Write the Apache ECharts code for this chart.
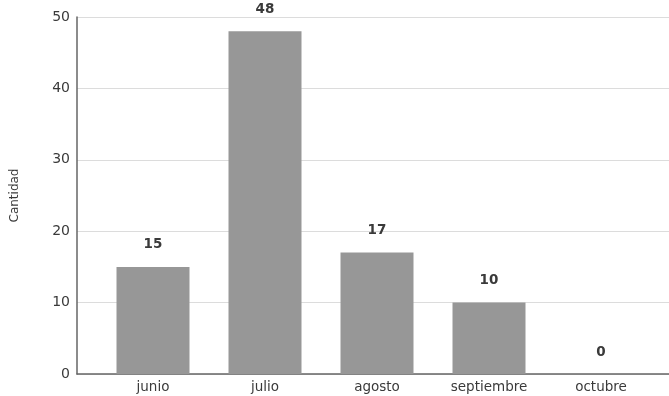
<!DOCTYPE html>
<html><head><meta charset="utf-8">
<script src="https://cdn.jsdelivr.net/npm/echarts@6/dist/echarts.min.js"></script>
<style>html,body{margin:0;padding:0;background:#fff}#c{width:669px;height:396px}</style>
</head><body><div id="c"></div>
<script>
const categories = ['junio', 'julio', 'agosto', 'septiembre', 'octubre'];
const values = [15, 48, 17, 10, 0];
const yTicks = [0, 10, 20, 30, 40, 50];
const yTitle = 'Cantidad';

const font = '"DejaVu Sans", Verdana, sans-serif';
const chart = echarts.init(document.getElementById('c'));
chart.setOption({
  animation: false,
  grid: [
    {left: 77, right: 0, top: 17, bottom: 22},
    {left: 97, right: 12, top: 17, bottom: 22}
  ],
  xAxis: [
    {gridIndex: 0, type: 'value', min: 0, max: 1, axisLine: {show: true, onZero: false, lineStyle: {color: '#666', width: 1.5}},
     axisTick: {show: false}, axisLabel: {show: false}, splitLine: {show: false}},
    {gridIndex: 1, type: 'category', data: categories,
     axisLine: {show: false}, axisTick: {show: false},
     axisLabel: {color: '#3a3a3a', fontSize: 13.5, fontFamily: font, margin: 6}}
  ],
  yAxis: [
    {gridIndex: 0, type: 'value', min: yTicks[0], max: yTicks[yTicks.length-1], interval: 10,
     name: yTitle, nameLocation: 'middle', nameGap: 56, nameRotate: 90,
     nameTextStyle: {color: '#3a3a3a', fontSize: 12, fontFamily: font},
     axisLine: {show: true, lineStyle: {color: '#666', width: 1.5}}, axisTick: {show: false},
     axisLabel: {color: '#3a3a3a', fontSize: 14, fontFamily: font, margin: 7},
     splitLine: {show: true, lineStyle: {color: '#dcdcdc', width: 1}}},
    {gridIndex: 1, type: 'value', min: 0, max: 50, show: false}
  ],
  series: [{
    type: 'bar', xAxisIndex: 1, yAxisIndex: 1, data: values, barWidth: 73,
    itemStyle: {color: '#979797'},
    label: {show: true, position: 'top', distance: 15, color: '#3a3a3a', fontWeight: 'bold', fontSize: 13.5, fontFamily: font}
  }]
});
</script></body></html>
